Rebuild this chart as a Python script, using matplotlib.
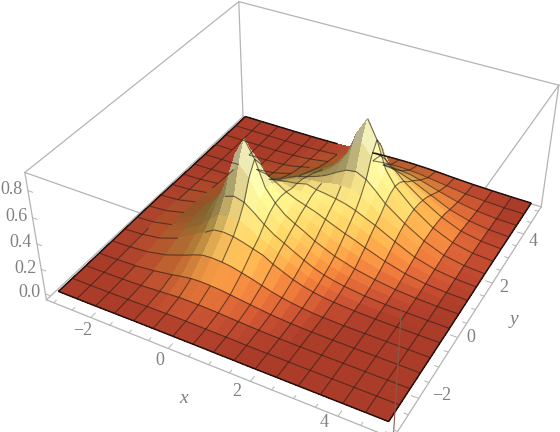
import numpy as np
import matplotlib
matplotlib.use("Agg")
import matplotlib.pyplot as plt
from matplotlib.colors import LinearSegmentedColormap
from mpl_toolkits.mplot3d import proj3d
from mpl_toolkits.mplot3d.art3d import Line3DCollection

x_vals = np.array([-3,-2.5,-2,-1.5,-1,-.75,-.5,-.25,0,.25,.5,.75,1,1.25,1.5,1.75,2,2.25,2.5,3,3.5,4,4.5,5])
y_vals = np.array([-3,-2.5,-2,-1.5,-1,-.5,-.25,0,.25,.5,.75,1,1.25,1.5,1.75,2,2.25,2.5,2.75,3,3.25,3.5,4,4.5,5])
# heights, one row per y value
z_vals = np.array([
[0,0,0,.001,.002,.002,.002,.002,.002,.002,.002,.002,.001,.001,.001,0,0,0,0,0,0,0,0,0],
[0,0,.001,.003,.006,.007,.009,.009,.009,.008,.007,.006,.005,.004,.002,.002,.001,.001,0,0,0,0,0,0],
[0,.001,.004,.009,.019,.024,.029,.03,.029,.027,.024,.019,.015,.011,.008,.005,.004,.002,.001,0,0,0,0,0],
[.001,.003,.009,.024,.048,.063,.075,.078,.075,.07,.06,.05,.04,.03,.02,.014,.009,.005,.003,.001,0,0,0,0],
[.002,.007,.02,.051,.104,.135,.16,.165,.16,.15,.13,.11,.086,.063,.045,.031,.02,.012,.007,.002,.001,0,0,0],
[.003,.011,.034,.087,.172,.217,.263,.272,.264,.244,.22,.196,.152,.118,.084,.059,.041,.027,.018,.008,.003,.001,0,0],
[.004,.014,.043,.105,.2,.271,.337,.353,.339,.306,.258,.226,.188,.145,.11,.075,.054,.039,.026,.011,.005,.002,.001,0],
[.005,.015,.048,.117,.241,.335,.434,.46,.438,.381,.315,.259,.219,.177,.136,.10,.073,.054,.039,.019,.009,.004,.001,0],
[.005,.016,.052,.127,.27,.39,.58,.67,.59,.449,.361,.294,.249,.204,.162,.123,.094,.073,.054,.03,.014,.006,.002,.001],
[.005,.017,.052,.13,.282,.414,.67,.81,.68,.485,.39,.32,.275,.235,.19,.156,.123,.10,.075,.044,.021,.009,.003,.001],
[.005,.016,.052,.127,.271,.394,.59,.68,.6,.474,.395,.337,.305,.267,.23,.19,.162,.136,.11,.064,.032,.013,.004,.001],
[.005,.015,.048,.118,.245,.343,.449,.485,.474,.432,.385,.35,.325,.30,.267,.235,.204,.177,.145,.089,.045,.019,.006,.002],
[.004,.014,.043,.106,.206,.284,.361,.39,.395,.385,.365,.36,.35,.325,.305,.275,.249,.219,.188,.118,.061,.026,.008,.002],
[.003,.011,.034,.089,.181,.233,.294,.32,.337,.35,.36,.38,.36,.35,.337,.32,.294,.259,.226,.148,.076,.032,.011,.003],
[.002,.009,.027,.071,.15,.197,.249,.275,.305,.325,.35,.36,.365,.385,.395,.39,.361,.315,.258,.177,.096,.039,.013,.003],
[.002,.007,.02,.053,.116,.159,.204,.235,.267,.30,.325,.35,.385,.432,.474,.485,.449,.381,.306,.197,.107,.044,.015,.004],
[.001,.005,.014,.038,.088,.122,.162,.19,.23,.267,.305,.337,.395,.474,.6,.68,.59,.438,.339,.211,.115,.047,.015,.004],
[.001,.003,.009,.026,.06,.09,.123,.156,.19,.235,.275,.32,.39,.485,.68,.81,.67,.46,.353,.216,.115,.048,.015,.004],
[.001,.002,.006,.018,.043,.066,.094,.123,.162,.204,.249,.294,.361,.449,.59,.67,.58,.434,.337,.211,.115,.047,.015,.004],
[0,.001,.004,.011,.031,.049,.073,.10,.136,.177,.219,.259,.315,.381,.438,.46,.434,.372,.301,.195,.107,.044,.015,.004],
[0,.001,.002,.007,.021,.035,.054,.075,.11,.145,.188,.226,.258,.306,.339,.353,.337,.301,.251,.175,.095,.039,.013,.003],
[0,0,.001,.005,.014,.024,.041,.059,.084,.118,.152,.196,.22,.244,.264,.272,.263,.241,.215,.145,.075,.032,.011,.003],
[0,0,0,.002,.006,.012,.021,.032,.046,.064,.087,.112,.131,.151,.161,.165,.16,.15,.13,.085,.044,.019,.006,.002],
[0,0,0,.001,.002,.005,.009,.014,.02,.03,.04,.05,.06,.07,.075,.078,.075,.07,.06,.04,.02,.009,.003,.001],
[0,0,0,0,.001,.002,.004,.005,.008,.011,.015,.019,.024,.027,.029,.03,.029,.027,.024,.015,.008,.004,.001,0],
])
x_ticks = [-2, 0, 2, 4]
y_ticks = [-2, 0, 2, 4]
z_ticks = [0.0, 0.2, 0.4, 0.6, 0.8]
x_box = (-3.2, 5.2)
y_box = (-3.2, 5.2)
z_box = (-0.05, 0.93)

elev, azim = 36.5, -61.5
aspect = (1.05, 1.05, 0.43)

fig = plt.figure(figsize=(5.6, 4.32), dpi=100)
side = 800.0
cx, cy = 295.0, 230.0
ax = fig.add_axes([(cx - side/2)/560, (cy - side/2)/432, side/560, side/432], projection="3d", computed_zorder=False)
ax.set_axis_off()
ax.set_proj_type("persp", focal_length=0.28)
ax.view_init(elev=elev, azim=azim)
ax.set_xlim(*x_box)
ax.set_ylim(*y_box)
ax.set_zlim(*z_box)
ax.set_box_aspect(aspect, zoom=1.25*432/side)

gray = "#b4b4b4"
xa, xb = x_box
ya, yb = y_box
za, zb = z_box


def edge(p, q, z=1, color=gray, lw=0.9):
    ax.plot([p[0], q[0]], [p[1], q[1]], [p[2], q[2]], color=color, lw=lw, zorder=z)


# box behind the surface
edge((xa, yb, za), (xa, yb, zb))
edge((xa, ya, zb), (xa, yb, zb))
edge((xa, yb, zb), (xb, yb, zb))
edge((xa, ya, za), (xa, yb, za))
edge((xa, yb, za), (xb, yb, za))

X, Y = np.meshgrid(x_vals, y_vals)
cmap = LinearSegmentedColormap.from_list("sunset", [(0, "#aa3c29"), (.01/.87, "#bd4a30"), (.03/.87, "#cf5f33"), (.07/.87, "#e07a38"),
                                                    (.13/.87, "#eb9a44"), (.22/.87, "#f3bf58"), (.4/.87, "#fbe488"), (1, "#fffbd8")])
dzdy, dzdx = np.gradient(z_vals, y_vals, x_vals)
sx = aspect[0]/(xb - xa)
sy = aspect[1]/(yb - ya)
sz = aspect[2]/(zb - za)
nx, ny, nz = -dzdx*sz/sx, -dzdy*sz/sy, np.ones_like(z_vals)
norm = np.sqrt(nx**2 + ny**2 + nz**2)
light = np.array([0.6, -0.25, 0.76])
lit = (nx*light[0] + ny*light[1] + nz*light[2])/norm/light[2]
shade = np.clip(0.35 + 0.65*lit, 0.55, 1.1)
rgb = cmap(np.clip(z_vals/0.87, 0, 1))[:, :, :3]*shade[:, :, None]
rgb = np.clip(rgb, 0, 1)
face = (rgb[:-1, :-1] + rgb[1:, :-1] + rgb[:-1, 1:] + rgb[1:, 1:])/4
ax.plot_surface(X, Y, z_vals, rstride=1, cstride=1, facecolors=face, shade=False, linewidth=0, antialiased=False, zorder=2)

# mesh lines, dropping the pieces a peak hides from the camera
el, az = np.radians(elev), np.radians(azim)
view = np.array([np.cos(el)*np.cos(az)/sx, np.cos(el)*np.sin(az)/sy, np.sin(el)/sz])


def hidden(px, py, pz):
    for s in np.linspace(0.02, 1.0, 40):
        qx, qy, qz = px + s*view[0], py + s*view[1], pz + s*view[2]
        if qx < x_vals[0] or qx > x_vals[-1] or qy < y_vals[0] or qy > y_vals[-1]:
            return False
        i = np.searchsorted(x_vals, qx)
        j = np.searchsorted(y_vals, qy)
        if z_vals[j, i] > qz + 0.005:
            return True
    return False


segs = []
rim_segs = []
for j, yv in enumerate(y_vals):
    if yv*2 != int(yv*2):
        continue
    for i in range(len(x_vals) - 1):
        a = (x_vals[i], yv, z_vals[j, i])
        b = (x_vals[i + 1], yv, z_vals[j, i + 1])
        if not hidden((a[0] + b[0])/2, yv, (a[2] + b[2])/2):
            (rim_segs if j in (0, len(y_vals) - 1) else segs).append((a, b))
for i, xv in enumerate(x_vals):
    if xv*2 != int(xv*2):
        continue
    for j in range(len(y_vals) - 1):
        a = (xv, y_vals[j], z_vals[j, i])
        b = (xv, y_vals[j + 1], z_vals[j + 1, i])
        if not hidden(xv, (a[1] + b[1])/2, (a[2] + b[2])/2):
            (rim_segs if i in (0, len(x_vals) - 1) else segs).append((a, b))
ax.add_collection3d(Line3DCollection(segs, colors="#2e2018", linewidths=0.8, alpha=0.65, zorder=3))
ax.add_collection3d(Line3DCollection(rim_segs, colors="#201010", linewidths=1.1, zorder=4))

# box in front
edge((xa, ya, za), (xa, ya, zb), 5)
edge((xb, ya, za), (xb, ya, zb), 5, "#8a5a48", 0.8)
edge((xb, yb, za), (xb, yb, zb), 5)
edge((xa, ya, zb), (xb, ya, zb), 1)
edge((xb, ya, zb), (xb, yb, zb), 1)
edge((xa, ya, za), (xb, ya, za), 5)
edge((xb, ya, za), (xb, yb, za), 5)

# ticks and labels
tc = "#808080"
proj = ax.get_proj()


def label(x, y, z, s, off, **kw):
    px, py, _ = proj3d.proj_transform(x, y, z, proj)
    ax.annotate(s, (px, py), xycoords="data", xytext=off, textcoords="offset pixels", family="Liberation Serif",
                color=tc, ha="center", va="center", zorder=6, **kw)


for v in np.arange(-3, 5.01, 0.5):
    size = 0.16 if v in x_ticks else 0.09
    edge((v, ya, za), (v, ya + size, za), 5, gray, 0.7)
    edge((xb, v, za), (xb - size, v, za), 5, gray, 0.7)
x_off = [(-8, -13), (-8, -12), (-14, -10), (-14, -6)]
y_off = [(23, 3), (13, 0), (11, -4), (9, -7)]
for v, off in zip(x_ticks, x_off):
    label(v, ya, za, str(v).replace("-", "\u2212"), off, fontsize=13)
for v, off in zip(y_ticks, y_off):
    label(xb, v, za, str(v).replace("-", "\u2212"), off, fontsize=13)
for v in z_ticks:
    edge((xa, ya, v), (xa + 0.12, ya, v), 5, gray, 0.7)
    label(xa, ya, v, "%.1f" % v, (-16, 1), fontsize=13)
label(0.6, ya, za, "x", (-9, -40), style="italic", fontsize=14)
label(xb, 1.0, za, "y", (38, -10), style="italic", fontsize=14)

fig.savefig("out.png", dpi=100)
